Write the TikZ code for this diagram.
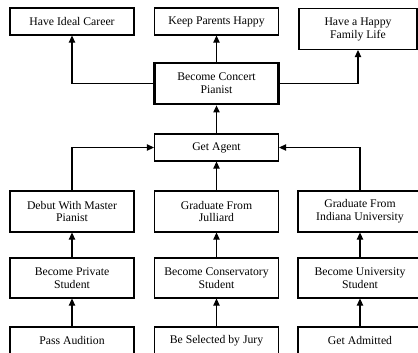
\documentclass[tikz,border=0pt]{standalone}
\usepackage{fontspec}
\setmainfont{Liberation Serif}
\usetikzlibrary{arrows.meta}
\begin{document}
\begin{tikzpicture}[x=0.3mm,y=-0.3mm,goal/.style={shape=rectangle,draw=black,line width=0.9pt,minimum width=37.2mm,minimum height=8.1mm,align=center,inner sep=1pt,font=\fontsize{10}{11}\selectfont},goalD/.style={goal,minimum height=12.3mm},goalM/.style={goalD,line width=2.4pt},link/.style={line width=0.9pt,-{Triangle[length=2.1mm,width=1.9mm]}}]
\def\xa{72};
\def\xb{216.5};
\def\xc{360};

\clip (0,0) rectangle (418,352);

\node[goal] (C1) at (\xa,21.5) {Have Ideal Career};
\node[goal] (P1) at (\xb,21.5) {Keep Parents Happy};
\node[goalD,minimum width=35.4mm] (F1) at (358,29) {Have a Happy\\Family Life};

\node[goalM] (B) at (\xb,83.5) {Become Concert\\Pianist};
\draw[link] (B.west) -| (C1.south);
\draw[link] (B.north) -- (P1.south);
\draw[link] (B.east) -| (F1.south);

\node[goal] (A) at (\xb,147.5) {Get Agent};
\draw[link] (A.north) -- (B.south);

\node[goalD] (D1) at (\xa,211.5) {Debut With Master\\Pianist};
\node[goalD] (D2) at (\xb,211.5) {Graduate From\\Julliard};
\node[goalD] (D3) at (\xc,211.5) {Graduate From\\Indiana University};
\draw[link] (D1.north) |- (A.west);
\draw[link] (D2.north) -- (A.south);
\draw[link] (D3.north) |- (A.east);

\node[goalD,minimum height=12mm] (S1) at (\xa,278) {Become Private\\Student};
\node[goalD,minimum height=12mm] (S2) at (\xb,278) {Become Conservatory\\Student};
\node[goalD,minimum height=12mm] (S3) at (\xc,278) {Become University\\Student};
\draw[link] (S1.north) -- (D1.south);
\draw[link] (S2.north) -- (D2.south);
\draw[link] (S3.north) -- (D3.south);

\node[goal] (E1) at (\xa,340.5) {Pass Audition};
\node[goal] (E2) at (\xb,340.5) {Be Selected by Jury};
\node[goal] (E3) at (\xc,340.5) {Get Admitted};
\draw[link] (E1.north) -- (S1.south);
\draw[link] (E2.north) -- (S2.south);
\draw[link] (E3.north) -- (S3.south);
\end{tikzpicture}
\end{document}
